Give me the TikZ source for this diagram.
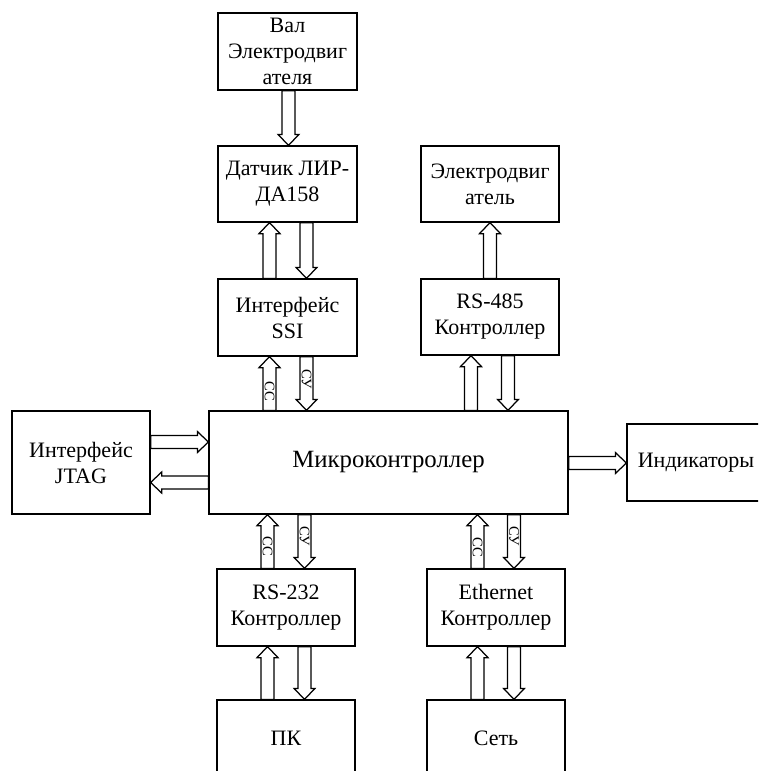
\documentclass[tikz,border=0pt]{standalone}
\usepackage{fontspec}
\setmainfont{Liberation Serif}
\usetikzlibrary{calc}
\tikzset{
  blk/.style={draw, line width=1.25pt, minimum width=139pt, minimum height=77pt, inner sep=0pt, align=center, font=\fontsize{22}{26}\selectfont},
  barr/.style={draw, line width=1.25pt, fill=white, line join=miter},
  sig/.style={rotate=-90, font=\fontsize{14.5}{14.5}\selectfont, inner sep=0pt}
}
\newcommand\barrow[2]{%
  \path #1 coordinate (ta) #2 coordinate (tb);
  \path ($(tb)!11pt!(ta)$) coordinate (th);
  \draw[barr] ($(ta)!6.5pt!90:(tb)$) -- ($(th)!6.5pt!90:(tb)$) -- ($(th)!10.5pt!90:(tb)$) -- (tb)
    -- ($(th)!10.5pt!-90:(tb)$) -- ($(th)!6.5pt!-90:(tb)$) -- ($(ta)!6.5pt!-90:(tb)$) -- cycle;}
\begin{document}
\begin{tikzpicture}[x=1pt,y=-1pt]
\useasboundingbox (0,0) rectangle (758,771);
\clip (0,0) rectangle (758,771);
% boxes
\node[blk] (val) at (287.5,51.5) {Вал\\Электродвиг\\ателя};
\node[blk, minimum height=76pt] (dat) at (287.5,184) {Датчик ЛИР-\\ДА158};
\node[blk] (ssi) at (287.5,317.5) {Интерфейс\\SSI};
\node[blk, minimum width=138pt, minimum height=76pt] (mot) at (490,184) {Электродвиг\\атель};
\node[blk, minimum width=138pt, minimum height=76pt] (rs485) at (490,317) {RS-485\\Контроллер};
\node[blk, minimum width=359pt, minimum height=103pt, font=\fontsize{24.8}{28}\selectfont] (mcu) at (388.5,462.5) {Микроконтроллер};
\node[blk, minimum width=138pt, minimum height=103pt] (jtag) at (81,462.5) {Интерфейс\\JTAG};
\node[blk, minimum width=138pt] (ind) at (696,462.5) {Индикаторы};
\node[blk, minimum width=138pt] (rs232) at (286,607.5) {RS-232\\Контроллер};
\node[blk, minimum width=138pt] (eth) at (496,607.5) {Ethernet\\Контроллер};
\node[blk, minimum width=138pt] (pk) at (286,738.5) {ПК};
\node[blk, minimum width=138pt] (net) at (496,738.5) {Сеть};
% arrows
\barrow{(288.5,0 |- val.south)}{(288.5,0 |- dat.north)}
\barrow{(269.5,0 |- ssi.north)}{(269.5,0 |- dat.south)}
\barrow{(306.5,0 |- dat.south)}{(306.5,0 |- ssi.north)}
\barrow{(269.5,0 |- mcu.north)}{(269.5,0 |- ssi.south)}
\barrow{(306.5,0 |- ssi.south)}{(306.5,0 |- mcu.north)}
\barrow{(490,0 |- rs485.north)}{(490,0 |- mot.south)}
\barrow{(471,0 |- mcu.north)}{(471,0 |- rs485.south)}
\barrow{(508,0 |- rs485.south)}{(508,0 |- mcu.north)}
\barrow{(jtag.east |- 0,442)}{(mcu.west |- 0,442)}
\barrow{(mcu.west |- 0,482.5)}{(jtag.east |- 0,482.5)}
\barrow{(mcu.east |- 0,463)}{(ind.west |- 0,463)}
\barrow{(267.5,0 |- rs232.north)}{(267.5,0 |- mcu.south)}
\barrow{(304.5,0 |- mcu.south)}{(304.5,0 |- rs232.north)}
\barrow{(267.5,0 |- pk.north)}{(267.5,0 |- rs232.south)}
\barrow{(304.5,0 |- rs232.south)}{(304.5,0 |- pk.north)}
\barrow{(477.5,0 |- eth.north)}{(477.5,0 |- mcu.south)}
\barrow{(514,0 |- mcu.south)}{(514,0 |- eth.north)}
\barrow{(477.5,0 |- net.north)}{(477.5,0 |- eth.south)}
\barrow{(514,0 |- eth.south)}{(514,0 |- net.north)}
% signal labels
\node[sig] (l1) at (269.5,391) {СС};
\node[sig] (l2) at (306.5,379) {СУ};
\node[sig] (l3) at (267.5,546) {СС};
\node[sig] (l4) at (304.5,536) {СУ};
\node[sig] (l5) at (477.5,547) {СС};
\node[sig] (l6) at (514,536) {СУ};
\end{tikzpicture}
\end{document}
